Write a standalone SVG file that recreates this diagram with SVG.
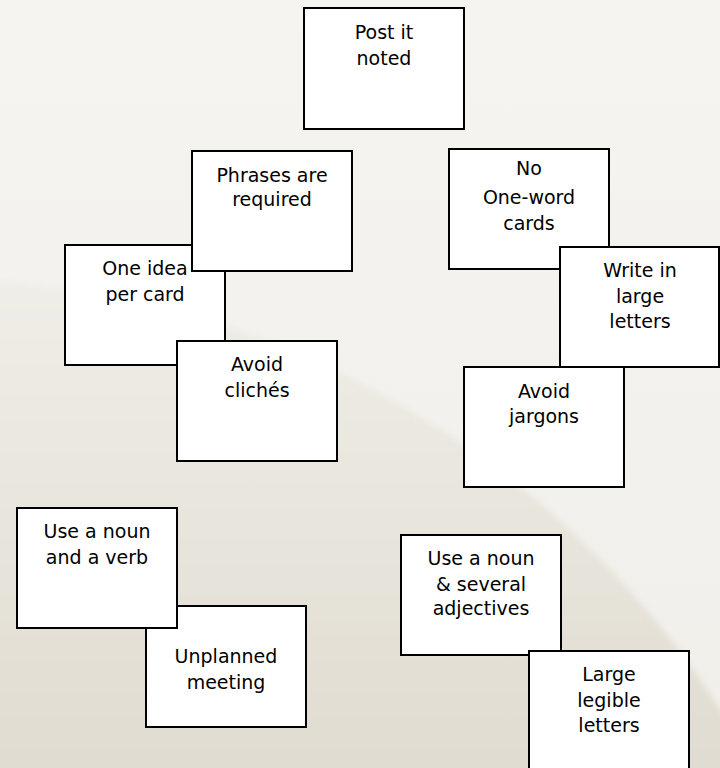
<svg xmlns="http://www.w3.org/2000/svg" width="720" height="768" viewBox="0 0 720 768">
  <defs>
    <linearGradient id="bgLight" x1="0" y1="0" x2="0" y2="768" gradientUnits="userSpaceOnUse">
      <stop offset="0" stop-color="#f6f4f0"/>
      <stop offset="1" stop-color="#f1efea"/>
    </linearGradient>
    <linearGradient id="bgDark" x1="0" y1="260" x2="0" y2="768" gradientUnits="userSpaceOnUse">
      <stop offset="0" stop-color="#f0eee8"/>
      <stop offset="0.45" stop-color="#e9e6de"/>
      <stop offset="1" stop-color="#e0dcd1"/>
    </linearGradient>
    <filter id="soft" x="-10%" y="-10%" width="120%" height="120%">
      <feGaussianBlur stdDeviation="3"/>
    </filter>
  </defs>
  <style>
    .card { fill: #ffffff; stroke: #000000; stroke-width: 2; }
    .lbl { font-family: "DejaVu Sans", "Noto Sans", sans-serif; font-size: 19px; fill: #000000; text-anchor: middle; }
  </style>

  <g id="background">
    <rect x="0" y="0" width="720" height="768" fill="url(#bgLight)"/>
    <circle cx="-68" cy="1216" r="937" fill="url(#bgDark)" filter="url(#soft)"/>
  </g>

  <g id="connectors"/>

  <g id="node-post-it">
    <rect class="card" x="304" y="8" width="160" height="121"/>
    <text class="lbl" x="384" y="39">Post it</text>
    <text class="lbl" x="384" y="65">noted</text>
  </g>

  <g id="node-one-idea">
    <rect class="card" x="65" y="245" width="160" height="120"/>
    <text class="lbl" x="145" y="275">One idea</text>
    <text class="lbl" x="145" y="301">per card</text>
  </g>

  <g id="node-phrases">
    <rect class="card" x="192" y="151" width="160" height="120"/>
    <text class="lbl" x="272" y="182">Phrases are</text>
    <text class="lbl" x="272" y="206">required</text>
  </g>

  <g id="node-cliches">
    <rect class="card" x="177" y="341" width="160" height="120"/>
    <text class="lbl" x="257" y="371">Avoid</text>
    <text class="lbl" x="257" y="397">clichés</text>
  </g>

  <g id="node-one-word">
    <rect class="card" x="449" y="149" width="160" height="120"/>
    <text class="lbl" x="529" y="175">No</text>
    <text class="lbl" x="529" y="204">One-word</text>
    <text class="lbl" x="529" y="230">cards</text>
  </g>

  <g id="node-write-large">
    <rect class="card" x="560" y="247" width="159" height="120"/>
    <text class="lbl" x="640" y="277">Write in</text>
    <text class="lbl" x="640" y="303">large</text>
    <text class="lbl" x="640" y="328">letters</text>
  </g>

  <g id="node-jargons">
    <rect class="card" x="464" y="367" width="160" height="120"/>
    <text class="lbl" x="544" y="398">Avoid</text>
    <text class="lbl" x="544" y="423">jargons</text>
  </g>

  <g id="node-unplanned">
    <rect class="card" x="146" y="606" width="160" height="121"/>
    <text class="lbl" x="226" y="663">Unplanned</text>
    <text class="lbl" x="226" y="689">meeting</text>
  </g>

  <g id="node-noun-verb">
    <rect class="card" x="17" y="508" width="160" height="120"/>
    <text class="lbl" x="97" y="538">Use a noun</text>
    <text class="lbl" x="97" y="564">and a verb</text>
  </g>

  <g id="node-noun-adjectives">
    <rect class="card" x="401" y="535" width="160" height="120"/>
    <text class="lbl" x="481" y="565">Use a noun</text>
    <text class="lbl" x="481" y="591">&amp; several</text>
    <text class="lbl" x="481" y="615">adjectives</text>
  </g>

  <g id="node-legible">
    <rect class="card" x="529" y="651" width="160" height="120"/>
    <text class="lbl" x="609" y="681">Large</text>
    <text class="lbl" x="609" y="707">legible</text>
    <text class="lbl" x="609" y="732">letters</text>
  </g>
</svg>
